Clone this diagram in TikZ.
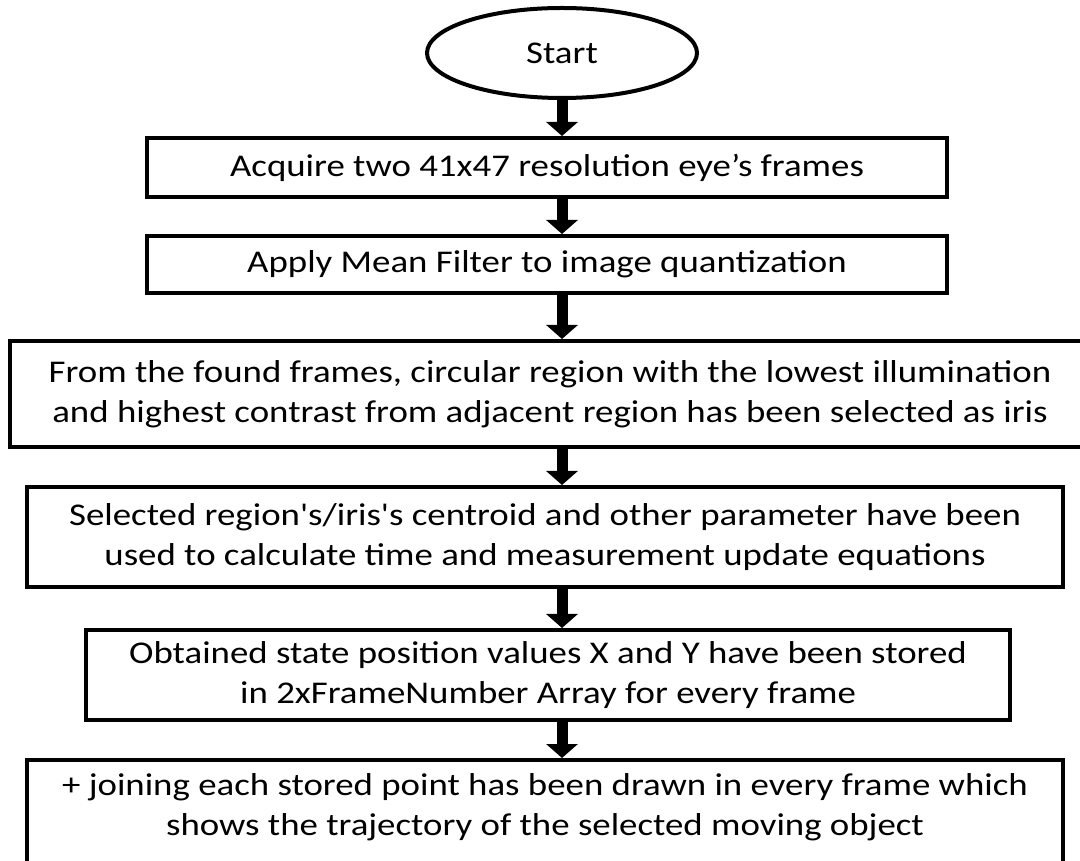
\documentclass[tikz,border=0pt]{standalone}
\usepackage{fontspec}
\setmainfont{Carlito}[FakeStretch=1.165, Ligatures=TeXOff]
\usetikzlibrary{arrows.meta,shapes.geometric}
\tikzset{
	box/.style={draw, line width=1mm, align=center, font=\fontsize{22.5}{28.5}\selectfont},
	flow/.style={line width=2.75mm, -{Triangle[width=7.75mm,length=3.5mm]}}
}

\begin{document}
\begin{tikzpicture}[x=0.25mm, y=-0.25mm]
			%%%%% START %%%%%
			\useasboundingbox (0, 0) rectangle (1080, 861);
			\clip (0, 0) rectangle (1080, 861);
			
			\node[box, ellipse, minimum width=67.5mm, minimum height=22.5mm] (start) at (562, 53) {Start};
			
			\node[box, minimum width=200mm, minimum height=14.75mm] (box1) at (547, 167.5) {Acquire two 41x47 resolution eye’s frames};
			\node[box, minimum width=200mm, minimum height=14.25mm] (box2) at (547, 264.5) {Apply Mean Filter to image quantization};
			
			\node[box, minimum width=270mm, minimum height=26.5mm] (box3) at (550, 394) {From the found frames, circular region with the lowest illumination\\and highest contrast from adjacent region has been selected as iris};
			\node[box, minimum width=259mm, minimum height=25mm] (box4) at (545, 537) {Selected region's/iris's centroid and other parameter have been\\used to calculate time and measurement update equations};
			\node[box, minimum width=231mm, minimum height=22.5mm] (box5) at (548, 675) {Obtained state position values X and Y have been stored\\in 2xFrameNumber Array for every frame};
			
			% last box runs past the bottom edge
			\node[box, minimum width=259mm, minimum height=35mm, anchor=north] (box6) at (545, 758) {};
			\node[box, draw=none] (text6) at (545, 807) {+ joining each stored point has been drawn in every frame which\\shows the trajectory of the selected moving object};
			
			\draw[flow] (start.south) -- (start.south |- box1.north);
			\foreach \a/\b in {box1/box2, box2/box3, box3/box4, box4/box5, box5/box6}
				\draw[flow] (\a.south -| start.south) -- (\b.north -| start.south);
			%%%%% END %%%%%
\end{tikzpicture}
\end{document}
